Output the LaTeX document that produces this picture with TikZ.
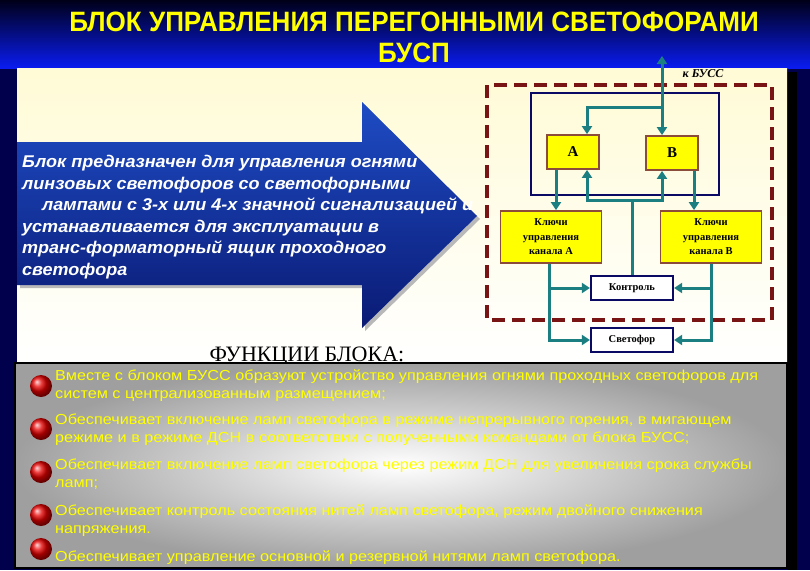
\documentclass[tikz,border=0pt]{standalone}
\usepackage{fontspec}
\setmainfont{Liberation Serif}
\setsansfont{Liberation Sans}
\newfontfamily\titlesans{Liberation Sans}[FakeStretch=0.93]
\newfontfamily\widesans{Liberation Sans}[FakeStretch=1.06]
\newfontfamily\funsans{Liberation Sans}[FakeStretch=1.12]
\usetikzlibrary{arrows.meta, positioning, calc}

\definecolor{bnavy}{HTML}{00004C}
\definecolor{bnavydark}{HTML}{000018}
\definecolor{bblue}{HTML}{0A1CF0}
\definecolor{bcream}{HTML}{FFFBD6}
\definecolor{bteal}{HTML}{1B7F82}
\definecolor{bmaroon}{HTML}{781414}
\definecolor{bbrown}{HTML}{8C4C3C}
\definecolor{bframe}{HTML}{0A0A64}
\definecolor{byellow}{HTML}{FFFF00}
\definecolor{barrowtop}{HTML}{1E4CC4}
\definecolor{barrowmid}{HTML}{3A84EC}
\definecolor{barrowbot}{HTML}{0A1A74}

\tikzset{
  chanbox/.style={draw=bbrown, line width=1.8pt, fill=byellow, minimum width=52pt,
    minimum height=34pt, inner sep=0pt, font=\fontsize{15}{15}\selectfont\bfseries},
  keybox/.style={draw=bbrown, line width=1.8pt, fill=byellow, minimum width=101pt,
    minimum height=52pt, inner sep=0pt, align=center, font=\fontsize{10.5}{14.5}\selectfont\bfseries},
  outbox/.style={draw=bframe, line width=2.2pt, fill=white, minimum width=82pt,
    minimum height=24pt, inner sep=0pt, font=\fontsize{10.5}{12}\selectfont\bfseries},
  link/.style={bteal, line width=3pt},
  linkto/.style={link, -{Triangle[width=10pt,length=8pt]}},
  redball/.style={circle, ball color=red!90!black, minimum size=22pt, inner sep=0pt},
  funtext/.style={anchor=north west, inner sep=0pt, align=left, text=byellow,
    font=\funsans\fontsize{14.5}{18}\selectfont},
}

\begin{document}
\begin{tikzpicture}[x=1pt, y=-1pt]
  \useasboundingbox (0,0) rectangle (810,570);

  %% background and title band
  \fill[bnavy] (0,0) rectangle (810,570);
  \shade[top color=bnavydark, bottom color=bblue] (0,0) rectangle (810,68);
  \node[font=\titlesans\bfseries\fontsize{28}{31}\selectfont, text=byellow, align=center]
    (title) at (414,37) {БЛОК  УПРАВЛЕНИЯ ПЕРЕГОННЫМИ СВЕТОФОРАМИ\\БУСП};

  %% upper panel
  \fill[black] (787,72) rectangle (797,570);
  \shade[top color=bcream, bottom color=white] (17,68) rectangle (787,363);

  %% big arrow
  \fill[gray!55] (20,145) -- (365,145) -- (365,105) -- (480,219) -- (365,331)
    -- (365,288) -- (20,288) -- cycle;
  \shade[top color=barrowtop, middle color=barrowmid, bottom color=barrowbot]
    (17,142) -- (362,142) -- (362,102) -- (477,216) -- (362,328) -- (362,285) -- (17,285) -- cycle;
  \node[anchor=north west, inner sep=0pt, align=left, text=white,
    font=\widesans\bfseries\itshape\fontsize{17}{21.6}\selectfont] (purpose) at (22,155)
    {Блок предназначен для управления огнями\\
     линзовых светофоров со светофорными\\
     \hspace*{20pt}лампами с 3-х или 4-х значной сигнализацией и\\
     устанавливается для эксплуатации в\\
     транс-форматорный ящик проходного\\
     светофора};

  %% block diagram
  \draw[bmaroon, line width=4pt, dash pattern=on 13pt off 7pt] (487,85) rectangle (772,320);
  \draw[bframe, line width=2.5pt] (531,93) rectangle (719,195);
  \node[chanbox] (chA) at (573,152) {А};
  \node[chanbox] (chB) at (672,153) {В};
  \node[keybox] (keyA) at (551,237) {Ключи\\управления\\канала А};
  \node[keybox] (keyB) at (711,237) {Ключи\\управления\\канала В};
  \node[outbox] (ctrl) at (632,288) {Контроль};
  \node[outbox] (lamp) at (632,340) {Светофор};
  \node[font=\bfseries\itshape\fontsize{12}{12}\selectfont] (buss) at (703,74) {к БУСС};

  \coordinate (busTop) at (662,56);
  \coordinate (busFork) at (662,107);
  \draw[linkto] (busFork) -- (busTop);
  \draw[linkto] (busFork) -- (busFork |- chB.north);
  \draw[linkto] (busFork) -| ([xshift=14pt]chA.north);
  \draw[linkto] ([xshift=-17pt]chA.south) -- ([xshift=-17pt]chA.south |- keyA.north);
  \draw[linkto] ([xshift=22pt]chB.south) -- ([xshift=22pt]chB.south |- keyB.north);
  \draw[link] (ctrl.north) -- ++(0,-74) coordinate (ctrlFork);
  \draw[linkto] (ctrlFork) -| ([xshift=14pt]chA.south);
  \draw[linkto] (ctrlFork) -| ([xshift=-10pt]chB.south);
  \draw[linkto] ([xshift=-2pt]keyA.south) |- (lamp.west);
  \draw[linkto] ([xshift=-2pt]keyA.south |- ctrl.west) -- (ctrl.west);
  \draw[linkto] (keyB.south) |- (lamp.east);
  \draw[linkto] (keyB.south |- ctrl.east) -- (ctrl.east);

  %% functions panel
  \node[font=\fontsize{22}{22}\selectfont, anchor=base] (funtitle) at (307,361) {ФУНКЦИИ БЛОКА:};
  \shade[inner color=white, outer color=gray!75] (15,363) rectangle (787,568);
  \draw[black, line width=1.5pt] (15,363) rectangle (787,568);

  \foreach \n/\y in {1/386, 2/429, 3/472, 4/515, 5/549}{
    \node[redball] (dot\n) at (41,\y) {};
  }
  \node[funtext] (fun1) at (55,370)
    {Вместе с блоком БУСС образуют устройство управления огнями проходных светофоров для\\
     систем с централизованным размещением;};
  \node[funtext] (fun2) at (55,414)
    {Обеспечивает включение ламп светофора в режиме непрерывного горения, в мигающем\\
     режиме и в режиме ДСН в соответствии с полученными командами от блока БУСС;};
  \node[funtext] (fun3) at (55,459)
    {Обеспечивает включение ламп светофора через режим ДСН для увеличения срока службы\\
     ламп;};
  \node[funtext] (fun4) at (55,505)
    {Обеспечивает контроль состояния нитей ламп светофора, режим двойного снижения\\
     напряжения.};
  \node[funtext] (fun5) at (55,551)
    {Обеспечивает управление основной и резервной нитями ламп светофора.};

\end{tikzpicture}
\end{document}
